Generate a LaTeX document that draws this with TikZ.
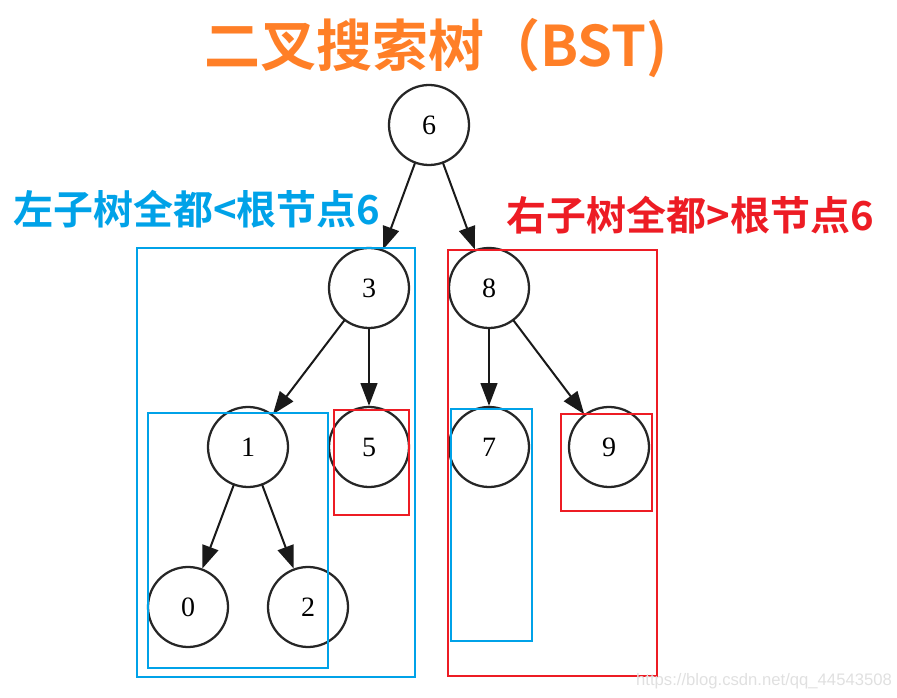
\documentclass[tikz,border=0pt]{standalone}
\usepackage{fontspec}
\usepackage{xcolor}
\usepackage{tikz}
\usetikzlibrary{arrows.meta}
\setmainfont{Liberation Serif}
\newfontfamily\cjk{Noto Sans CJK SC Bold}
\newfontfamily\wmfont{Liberation Sans}
\definecolor{titleorange}{HTML}{FF7F27}
\definecolor{boxblue}{HTML}{00A2E8}
\definecolor{boxred}{HTML}{ED1C24}
\tikzset{
  TreeNode/.style={
    draw=black!85, circle, line width=1.7pt,
    minimum size=60pt, inner sep=0pt,
    font=\fontsize{21}{21}\selectfont
  },
  TreeEdge/.style={
    line width=1.5pt, draw=black!90,
    -{Triangle[length=17pt,width=12.5pt]}
  },
  SubBox/.style={line width=1.8pt, line join=miter, line cap=rect},
  Caption/.style={inner sep=0pt, font=\cjk\fontsize{30}{30}\selectfont}
}

\begin{document}
\begin{tikzpicture}[x=0.75pt, y=-0.75pt, line cap=round, line join=round]
  \useasboundingbox (0,0) rectangle (897,698);
  % tree nodes
  \node[TreeNode] (n6) at (429,125) {6};
  \node[TreeNode] (n3) at (369,288) {3};
  \node[TreeNode] (n8) at (489,288) {8};
  \node[TreeNode] (n1) at (248,447) {1};
  \node[TreeNode] (n5) at (369,447) {5};
  \node[TreeNode] (n7) at (489,447) {7};
  \node[TreeNode] (n9) at (609,447) {9};
  \node[TreeNode] (n0) at (188,607) {0};
  \node[TreeNode] (n2) at (308,607) {2};

  \draw[TreeEdge] (n6) -- (n3);
  \draw[TreeEdge] (n6) -- (n8);
  \draw[TreeEdge] (n3) -- (n1);
  \draw[TreeEdge] (n3) -- (n5);
  \draw[TreeEdge] (n8) -- (n7);
  \draw[TreeEdge] (n8) -- (n9);
  \draw[TreeEdge] (n1) -- (n0);
  \draw[TreeEdge] (n1) -- (n2);

  % subtree boxes
  \draw[SubBox, boxblue] (137,248) rectangle (415,677);
  \draw[SubBox, boxblue] (148,413) rectangle (328,668);
  \draw[SubBox, boxred] (334,410) rectangle (409,515);
  \draw[SubBox, boxred] (448,250) rectangle (657,676);
  \draw[SubBox, boxblue] (451,409) rectangle (532,641);
  \draw[SubBox, boxred] (561,414) rectangle (652,511);

  % captions
  \node[Caption, text=titleorange, font=\cjk\fontsize{42}{42}\selectfont] (ttl) at (436,48) {二叉搜索树（BST)};
  \node[Caption, text=boxblue] (lcap) at (197,209) {左子树全都<根节点6};
  \node[Caption, text=boxred] (rcap) at (690,215) {右子树全都>根节点6};
  \node[inner sep=0pt, text=black!12, font=\wmfont\fontsize{12.5}{12.5}\selectfont] (wm) at (764,681) {https://blog.csdn.net/qq\_44543508};
\end{tikzpicture}
\end{document}
